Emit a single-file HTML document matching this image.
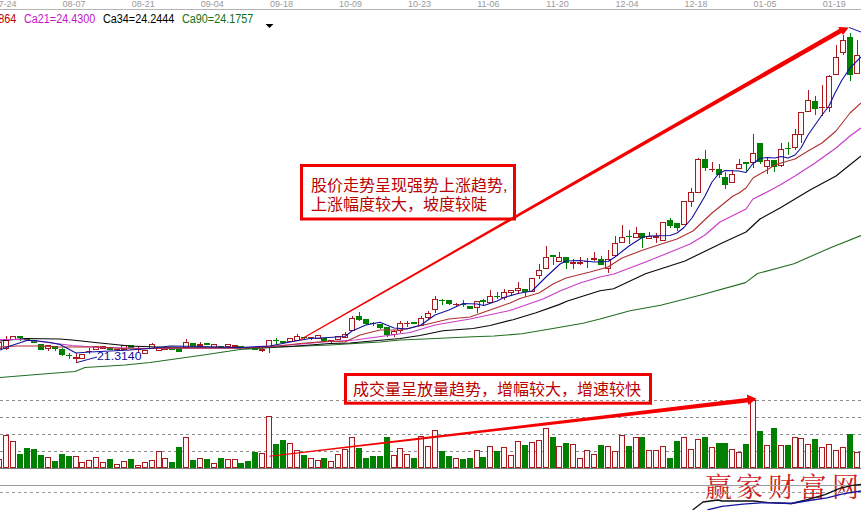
<!DOCTYPE html><html><head><meta charset="utf-8"><title>chart</title><style>
html,body{margin:0;padding:0;background:#fff}
body{width:861px;height:510px;position:relative;overflow:hidden;font-family:"Liberation Sans",sans-serif}
.d{position:absolute;top:-1.4px;font-size:9px;line-height:10px;color:#9a9a9a;transform:scaleX(1);transform-origin:0 0;white-space:nowrap}
.l{position:absolute;top:12px;font-size:12px;line-height:14px;transform:scaleX(.9);transform-origin:0 0;white-space:nowrap}
.p{position:absolute;left:96.5px;top:349.4px;font-size:11px;line-height:14px;color:#1010a0;white-space:nowrap;transform:scaleX(1.12);transform-origin:0 0}
</style></head><body>
<svg width="861" height="510" viewBox="0 0 861 510" style="position:absolute;left:0;top:0">
<text x="705 736 768 799.5 832" y="496.5" font-size="27" fill="#d01c1c" stroke="#fff" stroke-width="1.0" paint-order="stroke" font-family="'Liberation Serif','Noto Serif CJK SC',serif">赢家财富网</text>
<g shape-rendering="crispEdges">
<rect x="0" y="9" width="861" height="1" fill="#b4b4b4"/>
<line x1="0" y1="400.5" x2="861" y2="400.5" stroke="#8c8c8c" stroke-width="1" stroke-dasharray="3 3"/>
<line x1="0" y1="417.5" x2="861" y2="417.5" stroke="#8c8c8c" stroke-width="1" stroke-dasharray="3 3"/>
<line x1="0" y1="434.5" x2="861" y2="434.5" stroke="#8c8c8c" stroke-width="1" stroke-dasharray="3 3"/>
<line x1="0" y1="451.5" x2="861" y2="451.5" stroke="#8c8c8c" stroke-width="1" stroke-dasharray="3 3"/>
<rect x="0" y="468" width="861" height="1" fill="#7c7c7c"/>
<rect x="0" y="485" width="861" height="1" fill="#9a9a9a"/>
<line x1="0" y1="492.5" x2="861" y2="492.5" stroke="#9a9a9a" stroke-width="1" stroke-dasharray="3 3"/>
</g>
<g shape-rendering="crispEdges">
<rect x="-1" y="342" width="1" height="7" fill="#a8181c"/>
<rect x="-3.5" y="342.5" width="5" height="6" fill="#fff8f8" stroke="#a8181c" stroke-width="1"/>
<rect x="-3.5" y="459.5" width="5" height="8" fill="#fff8f8" stroke="#a8181c" stroke-width="1"/>
<rect x="6" y="336" width="1" height="14" fill="#a8181c"/>
<rect x="3.5" y="340.5" width="5" height="8" fill="#fff8f8" stroke="#a8181c" stroke-width="1"/>
<rect x="3.5" y="435.5" width="5" height="32" fill="#fff8f8" stroke="#a8181c" stroke-width="1"/>
<rect x="13" y="336" width="1" height="4" fill="#a8181c"/>
<rect x="10.5" y="336.5" width="5" height="3" fill="#fff8f8" stroke="#a8181c" stroke-width="1"/>
<rect x="10.5" y="441.5" width="5" height="26" fill="#fff8f8" stroke="#a8181c" stroke-width="1"/>
<rect x="20" y="336" width="1" height="5" fill="#008000"/>
<rect x="17" y="336" width="6" height="2" fill="#008000"/>
<rect x="17" y="454" width="6" height="14" fill="#008000"/>
<rect x="27" y="338" width="1" height="2" fill="#008000"/>
<rect x="24" y="338" width="6" height="2" fill="#008000"/>
<rect x="24" y="448" width="6" height="20" fill="#008000"/>
<rect x="34" y="340" width="1" height="3" fill="#008000"/>
<rect x="31" y="340" width="6" height="3" fill="#008000"/>
<rect x="31" y="449" width="6" height="19" fill="#008000"/>
<rect x="41" y="344" width="1" height="6" fill="#008000"/>
<rect x="38" y="344" width="6" height="6" fill="#008000"/>
<rect x="38" y="455" width="6" height="13" fill="#008000"/>
<rect x="48" y="345" width="1" height="6" fill="#a8181c"/>
<rect x="45.5" y="345.5" width="5" height="3" fill="#fff8f8" stroke="#a8181c" stroke-width="1"/>
<rect x="45.5" y="457.5" width="5" height="10" fill="#fff8f8" stroke="#a8181c" stroke-width="1"/>
<rect x="55" y="346" width="1" height="5" fill="#008000"/>
<rect x="52" y="346" width="6" height="3" fill="#008000"/>
<rect x="52" y="461" width="6" height="7" fill="#008000"/>
<rect x="62" y="348" width="1" height="8" fill="#008000"/>
<rect x="59" y="349" width="6" height="6" fill="#008000"/>
<rect x="59" y="454" width="6" height="14" fill="#008000"/>
<rect x="69" y="353" width="1" height="6" fill="#008000"/>
<rect x="66" y="355" width="6" height="1" fill="#008000"/>
<rect x="66" y="456" width="6" height="12" fill="#008000"/>
<rect x="76" y="353" width="1" height="10" fill="#a8181c"/>
<rect x="73" y="357" width="6" height="2" fill="#a8181c"/>
<rect x="73.5" y="456.5" width="5" height="11" fill="#fff8f8" stroke="#a8181c" stroke-width="1"/>
<rect x="82" y="354" width="1" height="5" fill="#a8181c"/>
<rect x="79.5" y="354.5" width="5" height="4" fill="#fff8f8" stroke="#a8181c" stroke-width="1"/>
<rect x="79.5" y="462.5" width="5" height="5" fill="#fff8f8" stroke="#a8181c" stroke-width="1"/>
<rect x="89" y="348" width="1" height="6" fill="#a8181c"/>
<rect x="86" y="351" width="6" height="1" fill="#a8181c"/>
<rect x="86.5" y="460.5" width="5" height="7" fill="#fff8f8" stroke="#a8181c" stroke-width="1"/>
<rect x="96" y="346" width="1" height="4" fill="#a8181c"/>
<rect x="93.5" y="346.5" width="5" height="3" fill="#fff8f8" stroke="#a8181c" stroke-width="1"/>
<rect x="93.5" y="457.5" width="5" height="10" fill="#fff8f8" stroke="#a8181c" stroke-width="1"/>
<rect x="103" y="346" width="1" height="3" fill="#a8181c"/>
<rect x="100.5" y="346.5" width="5" height="2" fill="#fff8f8" stroke="#a8181c" stroke-width="1"/>
<rect x="100.5" y="462.5" width="5" height="5" fill="#fff8f8" stroke="#a8181c" stroke-width="1"/>
<rect x="110" y="347" width="1" height="3" fill="#008000"/>
<rect x="107" y="347" width="6" height="3" fill="#008000"/>
<rect x="107" y="459" width="6" height="9" fill="#008000"/>
<rect x="117" y="349" width="1" height="2" fill="#a8181c"/>
<rect x="114" y="349" width="6" height="1" fill="#a8181c"/>
<rect x="114.5" y="464.5" width="5" height="3" fill="#fff8f8" stroke="#a8181c" stroke-width="1"/>
<rect x="124" y="345" width="1" height="5" fill="#a8181c"/>
<rect x="121.5" y="345.5" width="5" height="4" fill="#fff8f8" stroke="#a8181c" stroke-width="1"/>
<rect x="121.5" y="461.5" width="5" height="6" fill="#fff8f8" stroke="#a8181c" stroke-width="1"/>
<rect x="131" y="345" width="1" height="3" fill="#008000"/>
<rect x="128" y="345" width="6" height="3" fill="#008000"/>
<rect x="128" y="459" width="6" height="9" fill="#008000"/>
<rect x="138" y="346" width="1" height="7" fill="#a8181c"/>
<rect x="135" y="349" width="6" height="1" fill="#a8181c"/>
<rect x="135.5" y="465.5" width="5" height="2" fill="#fff8f8" stroke="#a8181c" stroke-width="1"/>
<rect x="145" y="350" width="1" height="4" fill="#a8181c"/>
<rect x="142.5" y="350.5" width="5" height="3" fill="#fff8f8" stroke="#a8181c" stroke-width="1"/>
<rect x="142.5" y="462.5" width="5" height="5" fill="#fff8f8" stroke="#a8181c" stroke-width="1"/>
<rect x="152" y="343" width="1" height="6" fill="#a8181c"/>
<rect x="149.5" y="344.5" width="5" height="4" fill="#fff8f8" stroke="#a8181c" stroke-width="1"/>
<rect x="149.5" y="460.5" width="5" height="7" fill="#fff8f8" stroke="#a8181c" stroke-width="1"/>
<rect x="159" y="348" width="1" height="3" fill="#a8181c"/>
<rect x="156.5" y="348.5" width="5" height="2" fill="#fff8f8" stroke="#a8181c" stroke-width="1"/>
<rect x="156.5" y="451.5" width="5" height="16" fill="#fff8f8" stroke="#a8181c" stroke-width="1"/>
<rect x="165" y="348" width="1" height="2" fill="#a8181c"/>
<rect x="162" y="348" width="6" height="2" fill="#a8181c"/>
<rect x="162.5" y="458.5" width="5" height="9" fill="#fff8f8" stroke="#a8181c" stroke-width="1"/>
<rect x="172" y="348" width="1" height="2" fill="#008000"/>
<rect x="169" y="348" width="6" height="2" fill="#008000"/>
<rect x="169" y="462" width="6" height="6" fill="#008000"/>
<rect x="179" y="348" width="1" height="4" fill="#008000"/>
<rect x="176" y="348" width="6" height="4" fill="#008000"/>
<rect x="176" y="447" width="6" height="21" fill="#008000"/>
<rect x="186" y="339" width="1" height="9" fill="#a8181c"/>
<rect x="183.5" y="342.5" width="5" height="5" fill="#fff8f8" stroke="#a8181c" stroke-width="1"/>
<rect x="183.5" y="437.5" width="5" height="30" fill="#fff8f8" stroke="#a8181c" stroke-width="1"/>
<rect x="193" y="343" width="1" height="3" fill="#008000"/>
<rect x="190" y="343" width="6" height="3" fill="#008000"/>
<rect x="190" y="460" width="6" height="8" fill="#008000"/>
<rect x="200" y="342" width="1" height="4" fill="#a8181c"/>
<rect x="197" y="344" width="6" height="2" fill="#a8181c"/>
<rect x="197.5" y="458.5" width="5" height="9" fill="#fff8f8" stroke="#a8181c" stroke-width="1"/>
<rect x="207" y="343" width="1" height="2" fill="#008000"/>
<rect x="204" y="343" width="6" height="2" fill="#008000"/>
<rect x="204" y="459" width="6" height="9" fill="#008000"/>
<rect x="214" y="344" width="1" height="4" fill="#a8181c"/>
<rect x="211.5" y="344.5" width="5" height="3" fill="#fff8f8" stroke="#a8181c" stroke-width="1"/>
<rect x="211.5" y="463.5" width="5" height="4" fill="#fff8f8" stroke="#a8181c" stroke-width="1"/>
<rect x="221" y="346" width="1" height="2" fill="#008000"/>
<rect x="218" y="346" width="6" height="2" fill="#008000"/>
<rect x="218" y="458" width="6" height="10" fill="#008000"/>
<rect x="228" y="344" width="1" height="3" fill="#a8181c"/>
<rect x="225.5" y="344.5" width="5" height="2" fill="#fff8f8" stroke="#a8181c" stroke-width="1"/>
<rect x="225.5" y="459.5" width="5" height="8" fill="#fff8f8" stroke="#a8181c" stroke-width="1"/>
<rect x="235" y="345" width="1" height="2" fill="#a8181c"/>
<rect x="232" y="345" width="6" height="2" fill="#a8181c"/>
<rect x="232.5" y="459.5" width="5" height="8" fill="#fff8f8" stroke="#a8181c" stroke-width="1"/>
<rect x="241" y="346" width="1" height="2" fill="#008000"/>
<rect x="238" y="346" width="6" height="2" fill="#008000"/>
<rect x="238" y="463" width="6" height="5" fill="#008000"/>
<rect x="248" y="347" width="1" height="2" fill="#008000"/>
<rect x="245" y="347" width="6" height="2" fill="#008000"/>
<rect x="245" y="461" width="6" height="7" fill="#008000"/>
<rect x="255" y="348" width="1" height="2" fill="#008000"/>
<rect x="252" y="348" width="6" height="2" fill="#008000"/>
<rect x="252" y="452" width="6" height="16" fill="#008000"/>
<rect x="262" y="348" width="1" height="4" fill="#a8181c"/>
<rect x="259" y="349" width="6" height="2" fill="#a8181c"/>
<rect x="259.5" y="453.5" width="5" height="14" fill="#fff8f8" stroke="#a8181c" stroke-width="1"/>
<rect x="269" y="340" width="1" height="13" fill="#a8181c"/>
<rect x="266.5" y="340.5" width="5" height="6" fill="#fff8f8" stroke="#a8181c" stroke-width="1"/>
<rect x="266.5" y="416.5" width="5" height="51" fill="#fff8f8" stroke="#a8181c" stroke-width="1"/>
<rect x="276" y="338" width="1" height="6" fill="#008000"/>
<rect x="273" y="340" width="6" height="1" fill="#008000"/>
<rect x="273" y="444" width="6" height="24" fill="#008000"/>
<rect x="283" y="341" width="1" height="2" fill="#008000"/>
<rect x="280" y="341" width="6" height="2" fill="#008000"/>
<rect x="280" y="440" width="6" height="28" fill="#008000"/>
<rect x="290" y="338" width="1" height="4" fill="#a8181c"/>
<rect x="287.5" y="338.5" width="5" height="3" fill="#fff8f8" stroke="#a8181c" stroke-width="1"/>
<rect x="287.5" y="443.5" width="5" height="24" fill="#fff8f8" stroke="#a8181c" stroke-width="1"/>
<rect x="297" y="334" width="1" height="7" fill="#a8181c"/>
<rect x="294.5" y="336.5" width="5" height="4" fill="#fff8f8" stroke="#a8181c" stroke-width="1"/>
<rect x="294.5" y="450.5" width="5" height="17" fill="#fff8f8" stroke="#a8181c" stroke-width="1"/>
<rect x="304" y="337" width="1" height="2" fill="#008000"/>
<rect x="301" y="337" width="6" height="1" fill="#008000"/>
<rect x="301" y="455" width="6" height="13" fill="#008000"/>
<rect x="311" y="337" width="1" height="3" fill="#a8181c"/>
<rect x="308" y="337" width="6" height="1" fill="#a8181c"/>
<rect x="308.5" y="458.5" width="5" height="9" fill="#fff8f8" stroke="#a8181c" stroke-width="1"/>
<rect x="318" y="335" width="1" height="4" fill="#a8181c"/>
<rect x="315.5" y="335.5" width="5" height="3" fill="#fff8f8" stroke="#a8181c" stroke-width="1"/>
<rect x="315.5" y="460.5" width="5" height="7" fill="#fff8f8" stroke="#a8181c" stroke-width="1"/>
<rect x="324" y="338" width="1" height="3" fill="#008000"/>
<rect x="321" y="338" width="6" height="3" fill="#008000"/>
<rect x="321" y="458" width="6" height="10" fill="#008000"/>
<rect x="331" y="340" width="1" height="3" fill="#a8181c"/>
<rect x="328" y="340" width="6" height="1" fill="#a8181c"/>
<rect x="328.5" y="461.5" width="5" height="6" fill="#fff8f8" stroke="#a8181c" stroke-width="1"/>
<rect x="338" y="336" width="1" height="4" fill="#a8181c"/>
<rect x="335.5" y="336.5" width="5" height="3" fill="#fff8f8" stroke="#a8181c" stroke-width="1"/>
<rect x="335.5" y="454.5" width="5" height="13" fill="#fff8f8" stroke="#a8181c" stroke-width="1"/>
<rect x="345" y="332" width="1" height="6" fill="#a8181c"/>
<rect x="342.5" y="334.5" width="5" height="3" fill="#fff8f8" stroke="#a8181c" stroke-width="1"/>
<rect x="342.5" y="449.5" width="5" height="18" fill="#fff8f8" stroke="#a8181c" stroke-width="1"/>
<rect x="352" y="316" width="1" height="15" fill="#a8181c"/>
<rect x="349.5" y="318.5" width="5" height="12" fill="#fff8f8" stroke="#a8181c" stroke-width="1"/>
<rect x="349.5" y="437.5" width="5" height="30" fill="#fff8f8" stroke="#a8181c" stroke-width="1"/>
<rect x="359" y="312" width="1" height="9" fill="#008000"/>
<rect x="356" y="316" width="6" height="4" fill="#008000"/>
<rect x="356" y="448" width="6" height="20" fill="#008000"/>
<rect x="366" y="319" width="1" height="6" fill="#008000"/>
<rect x="363" y="319" width="6" height="5" fill="#008000"/>
<rect x="363" y="458" width="6" height="10" fill="#008000"/>
<rect x="373" y="322" width="1" height="4" fill="#008000"/>
<rect x="370" y="323" width="6" height="1" fill="#008000"/>
<rect x="370" y="456" width="6" height="12" fill="#008000"/>
<rect x="380" y="324" width="1" height="5" fill="#008000"/>
<rect x="377" y="324" width="6" height="4" fill="#008000"/>
<rect x="377" y="456" width="6" height="12" fill="#008000"/>
<rect x="387" y="327" width="1" height="10" fill="#008000"/>
<rect x="384" y="327" width="6" height="8" fill="#008000"/>
<rect x="384" y="437" width="6" height="31" fill="#008000"/>
<rect x="394" y="330" width="1" height="7" fill="#a8181c"/>
<rect x="391.5" y="331.5" width="5" height="3" fill="#fff8f8" stroke="#a8181c" stroke-width="1"/>
<rect x="391.5" y="455.5" width="5" height="12" fill="#fff8f8" stroke="#a8181c" stroke-width="1"/>
<rect x="400" y="321" width="1" height="12" fill="#a8181c"/>
<rect x="397.5" y="323.5" width="5" height="7" fill="#fff8f8" stroke="#a8181c" stroke-width="1"/>
<rect x="397.5" y="448.5" width="5" height="19" fill="#fff8f8" stroke="#a8181c" stroke-width="1"/>
<rect x="407" y="321" width="1" height="6" fill="#a8181c"/>
<rect x="404" y="323" width="6" height="1" fill="#a8181c"/>
<rect x="404.5" y="454.5" width="5" height="13" fill="#fff8f8" stroke="#a8181c" stroke-width="1"/>
<rect x="414" y="322" width="1" height="2" fill="#008000"/>
<rect x="411" y="322" width="6" height="2" fill="#008000"/>
<rect x="411" y="458" width="6" height="10" fill="#008000"/>
<rect x="421" y="316" width="1" height="10" fill="#a8181c"/>
<rect x="418.5" y="318.5" width="5" height="7" fill="#fff8f8" stroke="#a8181c" stroke-width="1"/>
<rect x="418.5" y="436.5" width="5" height="31" fill="#fff8f8" stroke="#a8181c" stroke-width="1"/>
<rect x="428" y="311" width="1" height="9" fill="#a8181c"/>
<rect x="425.5" y="313.5" width="5" height="4" fill="#fff8f8" stroke="#a8181c" stroke-width="1"/>
<rect x="425.5" y="446.5" width="5" height="21" fill="#fff8f8" stroke="#a8181c" stroke-width="1"/>
<rect x="435" y="296" width="1" height="17" fill="#a8181c"/>
<rect x="432.5" y="299.5" width="5" height="10" fill="#fff8f8" stroke="#a8181c" stroke-width="1"/>
<rect x="432.5" y="430.5" width="5" height="37" fill="#fff8f8" stroke="#a8181c" stroke-width="1"/>
<rect x="442" y="299" width="1" height="6" fill="#008000"/>
<rect x="439" y="300" width="6" height="1" fill="#008000"/>
<rect x="439" y="451" width="6" height="17" fill="#008000"/>
<rect x="449" y="300" width="1" height="5" fill="#008000"/>
<rect x="446" y="300" width="6" height="4" fill="#008000"/>
<rect x="446" y="456" width="6" height="12" fill="#008000"/>
<rect x="456" y="303" width="1" height="4" fill="#a8181c"/>
<rect x="453" y="304" width="6" height="1" fill="#a8181c"/>
<rect x="453.5" y="458.5" width="5" height="9" fill="#fff8f8" stroke="#a8181c" stroke-width="1"/>
<rect x="463" y="300" width="1" height="7" fill="#008000"/>
<rect x="460" y="304" width="6" height="1" fill="#008000"/>
<rect x="460" y="459" width="6" height="9" fill="#008000"/>
<rect x="470" y="306" width="1" height="3" fill="#008000"/>
<rect x="467" y="306" width="6" height="3" fill="#008000"/>
<rect x="467" y="458" width="6" height="10" fill="#008000"/>
<rect x="477" y="301" width="1" height="12" fill="#a8181c"/>
<rect x="474.5" y="301.5" width="5" height="6" fill="#fff8f8" stroke="#a8181c" stroke-width="1"/>
<rect x="474.5" y="450.5" width="5" height="17" fill="#fff8f8" stroke="#a8181c" stroke-width="1"/>
<rect x="483" y="299" width="1" height="7" fill="#008000"/>
<rect x="480" y="300" width="6" height="2" fill="#008000"/>
<rect x="480" y="457" width="6" height="11" fill="#008000"/>
<rect x="490" y="290" width="1" height="13" fill="#a8181c"/>
<rect x="487.5" y="296.5" width="5" height="6" fill="#fff8f8" stroke="#a8181c" stroke-width="1"/>
<rect x="487.5" y="446.5" width="5" height="21" fill="#fff8f8" stroke="#a8181c" stroke-width="1"/>
<rect x="497" y="292" width="1" height="7" fill="#008000"/>
<rect x="494" y="296" width="6" height="1" fill="#008000"/>
<rect x="494" y="451" width="6" height="17" fill="#008000"/>
<rect x="504" y="289" width="1" height="11" fill="#a8181c"/>
<rect x="501.5" y="292.5" width="5" height="5" fill="#fff8f8" stroke="#a8181c" stroke-width="1"/>
<rect x="501.5" y="447.5" width="5" height="20" fill="#fff8f8" stroke="#a8181c" stroke-width="1"/>
<rect x="511" y="290" width="1" height="6" fill="#a8181c"/>
<rect x="508.5" y="290.5" width="5" height="2" fill="#fff8f8" stroke="#a8181c" stroke-width="1"/>
<rect x="508.5" y="455.5" width="5" height="12" fill="#fff8f8" stroke="#a8181c" stroke-width="1"/>
<rect x="518" y="282" width="1" height="12" fill="#a8181c"/>
<rect x="515.5" y="288.5" width="5" height="2" fill="#fff8f8" stroke="#a8181c" stroke-width="1"/>
<rect x="515.5" y="441.5" width="5" height="26" fill="#fff8f8" stroke="#a8181c" stroke-width="1"/>
<rect x="525" y="289" width="1" height="8" fill="#008000"/>
<rect x="522" y="289" width="6" height="3" fill="#008000"/>
<rect x="522" y="445" width="6" height="23" fill="#008000"/>
<rect x="532" y="278" width="1" height="14" fill="#a8181c"/>
<rect x="529.5" y="278.5" width="5" height="13" fill="#fff8f8" stroke="#a8181c" stroke-width="1"/>
<rect x="529.5" y="442.5" width="5" height="25" fill="#fff8f8" stroke="#a8181c" stroke-width="1"/>
<rect x="539" y="264" width="1" height="15" fill="#a8181c"/>
<rect x="536.5" y="270.5" width="5" height="5" fill="#fff8f8" stroke="#a8181c" stroke-width="1"/>
<rect x="536.5" y="440.5" width="5" height="27" fill="#fff8f8" stroke="#a8181c" stroke-width="1"/>
<rect x="546" y="246" width="1" height="23" fill="#a8181c"/>
<rect x="543.5" y="257.5" width="5" height="11" fill="#fff8f8" stroke="#a8181c" stroke-width="1"/>
<rect x="543.5" y="428.5" width="5" height="39" fill="#fff8f8" stroke="#a8181c" stroke-width="1"/>
<rect x="553" y="255" width="1" height="10" fill="#008000"/>
<rect x="550" y="255" width="6" height="2" fill="#008000"/>
<rect x="550" y="437" width="6" height="31" fill="#008000"/>
<rect x="559" y="252" width="1" height="10" fill="#a8181c"/>
<rect x="556.5" y="257.5" width="5" height="4" fill="#fff8f8" stroke="#a8181c" stroke-width="1"/>
<rect x="556.5" y="446.5" width="5" height="21" fill="#fff8f8" stroke="#a8181c" stroke-width="1"/>
<rect x="566" y="257" width="1" height="12" fill="#008000"/>
<rect x="563" y="257" width="6" height="6" fill="#008000"/>
<rect x="563" y="443" width="6" height="25" fill="#008000"/>
<rect x="573" y="259" width="1" height="10" fill="#a8181c"/>
<rect x="570" y="262" width="6" height="2" fill="#a8181c"/>
<rect x="570.5" y="444.5" width="5" height="23" fill="#fff8f8" stroke="#a8181c" stroke-width="1"/>
<rect x="580" y="257" width="1" height="8" fill="#a8181c"/>
<rect x="577" y="262" width="6" height="2" fill="#a8181c"/>
<rect x="577.5" y="458.5" width="5" height="9" fill="#fff8f8" stroke="#a8181c" stroke-width="1"/>
<rect x="587" y="258" width="1" height="10" fill="#a8181c"/>
<rect x="584" y="261" width="6" height="1" fill="#a8181c"/>
<rect x="584.5" y="450.5" width="5" height="17" fill="#fff8f8" stroke="#a8181c" stroke-width="1"/>
<rect x="594" y="252" width="1" height="9" fill="#a8181c"/>
<rect x="591" y="258" width="6" height="2" fill="#a8181c"/>
<rect x="591.5" y="454.5" width="5" height="13" fill="#fff8f8" stroke="#a8181c" stroke-width="1"/>
<rect x="601" y="256" width="1" height="9" fill="#008000"/>
<rect x="598" y="259" width="6" height="6" fill="#008000"/>
<rect x="598" y="445" width="6" height="23" fill="#008000"/>
<rect x="608" y="250" width="1" height="23" fill="#a8181c"/>
<rect x="605.5" y="259.5" width="5" height="9" fill="#fff8f8" stroke="#a8181c" stroke-width="1"/>
<rect x="605.5" y="446.5" width="5" height="21" fill="#fff8f8" stroke="#a8181c" stroke-width="1"/>
<rect x="615" y="236" width="1" height="20" fill="#a8181c"/>
<rect x="612.5" y="243.5" width="5" height="12" fill="#fff8f8" stroke="#a8181c" stroke-width="1"/>
<rect x="612.5" y="451.5" width="5" height="16" fill="#fff8f8" stroke="#a8181c" stroke-width="1"/>
<rect x="622" y="225" width="1" height="18" fill="#a8181c"/>
<rect x="619.5" y="237.5" width="5" height="5" fill="#fff8f8" stroke="#a8181c" stroke-width="1"/>
<rect x="619.5" y="435.5" width="5" height="32" fill="#fff8f8" stroke="#a8181c" stroke-width="1"/>
<rect x="629" y="230" width="1" height="14" fill="#008000"/>
<rect x="626" y="236" width="6" height="1" fill="#008000"/>
<rect x="626" y="446" width="6" height="22" fill="#008000"/>
<rect x="636" y="227" width="1" height="11" fill="#a8181c"/>
<rect x="633.5" y="233.5" width="5" height="4" fill="#fff8f8" stroke="#a8181c" stroke-width="1"/>
<rect x="633.5" y="437.5" width="5" height="30" fill="#fff8f8" stroke="#a8181c" stroke-width="1"/>
<rect x="642" y="233" width="1" height="15" fill="#008000"/>
<rect x="639" y="233" width="6" height="5" fill="#008000"/>
<rect x="639" y="437" width="6" height="31" fill="#008000"/>
<rect x="649" y="232" width="1" height="7" fill="#a8181c"/>
<rect x="646.5" y="236.5" width="5" height="2" fill="#fff8f8" stroke="#a8181c" stroke-width="1"/>
<rect x="646.5" y="450.5" width="5" height="17" fill="#fff8f8" stroke="#a8181c" stroke-width="1"/>
<rect x="656" y="233" width="1" height="10" fill="#a8181c"/>
<rect x="653" y="236" width="6" height="2" fill="#a8181c"/>
<rect x="653.5" y="450.5" width="5" height="17" fill="#fff8f8" stroke="#a8181c" stroke-width="1"/>
<rect x="663" y="222" width="1" height="19" fill="#a8181c"/>
<rect x="660.5" y="222.5" width="5" height="18" fill="#fff8f8" stroke="#a8181c" stroke-width="1"/>
<rect x="660.5" y="446.5" width="5" height="21" fill="#fff8f8" stroke="#a8181c" stroke-width="1"/>
<rect x="670" y="218" width="1" height="10" fill="#008000"/>
<rect x="667" y="220" width="6" height="6" fill="#008000"/>
<rect x="667" y="458" width="6" height="10" fill="#008000"/>
<rect x="677" y="223" width="1" height="8" fill="#008000"/>
<rect x="674" y="223" width="6" height="5" fill="#008000"/>
<rect x="674" y="441" width="6" height="27" fill="#008000"/>
<rect x="684" y="201" width="1" height="24" fill="#a8181c"/>
<rect x="681.5" y="201.5" width="5" height="23" fill="#fff8f8" stroke="#a8181c" stroke-width="1"/>
<rect x="681.5" y="437.5" width="5" height="30" fill="#fff8f8" stroke="#a8181c" stroke-width="1"/>
<rect x="691" y="188" width="1" height="19" fill="#a8181c"/>
<rect x="688.5" y="192.5" width="5" height="9" fill="#fff8f8" stroke="#a8181c" stroke-width="1"/>
<rect x="688.5" y="449.5" width="5" height="18" fill="#fff8f8" stroke="#a8181c" stroke-width="1"/>
<rect x="698" y="158" width="1" height="35" fill="#a8181c"/>
<rect x="695.5" y="159.5" width="5" height="33" fill="#fff8f8" stroke="#a8181c" stroke-width="1"/>
<rect x="695.5" y="439.5" width="5" height="28" fill="#fff8f8" stroke="#a8181c" stroke-width="1"/>
<rect x="705" y="150" width="1" height="21" fill="#008000"/>
<rect x="702" y="159" width="6" height="9" fill="#008000"/>
<rect x="702" y="437" width="6" height="31" fill="#008000"/>
<rect x="712" y="162" width="1" height="10" fill="#a8181c"/>
<rect x="709" y="169" width="6" height="1" fill="#a8181c"/>
<rect x="709.5" y="447.5" width="5" height="20" fill="#fff8f8" stroke="#a8181c" stroke-width="1"/>
<rect x="719" y="164" width="1" height="14" fill="#008000"/>
<rect x="716" y="169" width="6" height="6" fill="#008000"/>
<rect x="716" y="443" width="6" height="25" fill="#008000"/>
<rect x="725" y="172" width="1" height="17" fill="#008000"/>
<rect x="722" y="177" width="6" height="8" fill="#008000"/>
<rect x="722" y="443" width="6" height="25" fill="#008000"/>
<rect x="732" y="170" width="1" height="13" fill="#a8181c"/>
<rect x="729.5" y="174.5" width="5" height="8" fill="#fff8f8" stroke="#a8181c" stroke-width="1"/>
<rect x="729.5" y="449.5" width="5" height="18" fill="#fff8f8" stroke="#a8181c" stroke-width="1"/>
<rect x="739" y="159" width="1" height="10" fill="#a8181c"/>
<rect x="736.5" y="164.5" width="5" height="4" fill="#fff8f8" stroke="#a8181c" stroke-width="1"/>
<rect x="736.5" y="452.5" width="5" height="15" fill="#fff8f8" stroke="#a8181c" stroke-width="1"/>
<rect x="746" y="162" width="1" height="10" fill="#008000"/>
<rect x="743" y="162" width="6" height="2" fill="#008000"/>
<rect x="743" y="444" width="6" height="24" fill="#008000"/>
<rect x="753" y="134" width="1" height="34" fill="#a8181c"/>
<rect x="750.5" y="153.5" width="5" height="9" fill="#fff8f8" stroke="#a8181c" stroke-width="1"/>
<rect x="750.5" y="400.5" width="5" height="67" fill="#fff8f8" stroke="#a8181c" stroke-width="1"/>
<rect x="760" y="143" width="1" height="21" fill="#008000"/>
<rect x="757" y="143" width="6" height="19" fill="#008000"/>
<rect x="757" y="431" width="6" height="37" fill="#008000"/>
<rect x="767" y="158" width="1" height="16" fill="#a8181c"/>
<rect x="764.5" y="160.5" width="5" height="6" fill="#fff8f8" stroke="#a8181c" stroke-width="1"/>
<rect x="764.5" y="445.5" width="5" height="22" fill="#fff8f8" stroke="#a8181c" stroke-width="1"/>
<rect x="774" y="160" width="1" height="12" fill="#008000"/>
<rect x="771" y="160" width="6" height="7" fill="#008000"/>
<rect x="771" y="428" width="6" height="40" fill="#008000"/>
<rect x="781" y="143" width="1" height="24" fill="#a8181c"/>
<rect x="778.5" y="149.5" width="5" height="16" fill="#fff8f8" stroke="#a8181c" stroke-width="1"/>
<rect x="778.5" y="445.5" width="5" height="22" fill="#fff8f8" stroke="#a8181c" stroke-width="1"/>
<rect x="788" y="142" width="1" height="13" fill="#008000"/>
<rect x="785" y="148" width="6" height="1" fill="#008000"/>
<rect x="785" y="445" width="6" height="23" fill="#008000"/>
<rect x="795" y="129" width="1" height="21" fill="#a8181c"/>
<rect x="792.5" y="134.5" width="5" height="13" fill="#fff8f8" stroke="#a8181c" stroke-width="1"/>
<rect x="792.5" y="437.5" width="5" height="30" fill="#fff8f8" stroke="#a8181c" stroke-width="1"/>
<rect x="801" y="112" width="1" height="31" fill="#a8181c"/>
<rect x="798.5" y="112.5" width="5" height="22" fill="#fff8f8" stroke="#a8181c" stroke-width="1"/>
<rect x="798.5" y="438.5" width="5" height="29" fill="#fff8f8" stroke="#a8181c" stroke-width="1"/>
<rect x="808" y="90" width="1" height="22" fill="#a8181c"/>
<rect x="805.5" y="100.5" width="5" height="11" fill="#fff8f8" stroke="#a8181c" stroke-width="1"/>
<rect x="805.5" y="444.5" width="5" height="23" fill="#fff8f8" stroke="#a8181c" stroke-width="1"/>
<rect x="815" y="96" width="1" height="19" fill="#008000"/>
<rect x="812" y="101" width="6" height="8" fill="#008000"/>
<rect x="812" y="439" width="6" height="29" fill="#008000"/>
<rect x="822" y="85" width="1" height="31" fill="#a8181c"/>
<rect x="819" y="107" width="6" height="1" fill="#a8181c"/>
<rect x="819.5" y="447.5" width="5" height="20" fill="#fff8f8" stroke="#a8181c" stroke-width="1"/>
<rect x="829" y="75" width="1" height="37" fill="#a8181c"/>
<rect x="826.5" y="76.5" width="5" height="31" fill="#fff8f8" stroke="#a8181c" stroke-width="1"/>
<rect x="826.5" y="444.5" width="5" height="23" fill="#fff8f8" stroke="#a8181c" stroke-width="1"/>
<rect x="836" y="45" width="1" height="30" fill="#a8181c"/>
<rect x="833.5" y="57.5" width="5" height="17" fill="#fff8f8" stroke="#a8181c" stroke-width="1"/>
<rect x="833.5" y="450.5" width="5" height="17" fill="#fff8f8" stroke="#a8181c" stroke-width="1"/>
<rect x="843" y="35" width="1" height="20" fill="#a8181c"/>
<rect x="840.5" y="40.5" width="5" height="12" fill="#fff8f8" stroke="#a8181c" stroke-width="1"/>
<rect x="840.5" y="447.5" width="5" height="20" fill="#fff8f8" stroke="#a8181c" stroke-width="1"/>
<rect x="850" y="33" width="1" height="48" fill="#008000"/>
<rect x="847" y="37" width="6" height="38" fill="#008000"/>
<rect x="847" y="434" width="6" height="34" fill="#008000"/>
<rect x="857" y="40" width="1" height="34" fill="#a8181c"/>
<rect x="854.5" y="55.5" width="5" height="18" fill="#fff8f8" stroke="#a8181c" stroke-width="1"/>
<rect x="854.5" y="452.5" width="5" height="15" fill="#fff8f8" stroke="#a8181c" stroke-width="1"/>
</g>
<polyline fill="none" stroke="#226e22" stroke-width="1.1" stroke-linejoin="round" points="0,377.5 37,374.5 75,371.5 85,367.5 125,365 150,362.5 200,355.5 240,349.5 280,347 330,345 380,342 400,340 430,338.8 473,336.7 494,336 522,333.7 550,329 583,323.2 600,319 630,310.8 660.6,305.3 700,295.3 745.5,282.6 757.6,273.5 794,263.8 830.4,247.7 861,235.6"/>
<polyline fill="none" stroke="#080808" stroke-width="1.15" stroke-linejoin="round" points="0,341 25,338.5 60,339 72,340 100,343 130,346 170,347.5 240,348 290,346.5 330,343.5 350,343 400,338.5 420,335.5 443,330.8 473,328.5 490,325.5 513,319.7 536,312.8 559,304.6 567.5,301 600,290.8 613.6,288.7 645.5,273.8 685,261 721,243.5 746,232 760,219 780,208 810,190 836,176 861,156"/>
<polyline fill="none" stroke="#c83cc8" stroke-width="1.15" stroke-linejoin="round" points="0,339.5 20,339.5 40,341.5 60,344 72,345.5 100,347.5 150,348.5 240,348 290,345 330,341.5 355,340 410,332.5 435,325 470,319 510,310.5 543,299 560,291 580,283 600,277 614,274 643,263 663,255 690,244 705,235 720,222 746,209 753,199 767,192 780,185 795,176 815,163 836,148 850,136 861,128"/>
<polyline fill="none" stroke="#b03030" stroke-width="1.1" stroke-linejoin="round" points="0,347 17,346 38,346 60,347 100,347 130,349 170,348 240,348 270,347 300,343.5 330,341 345,342 360,335 380,330 400,330 410,328 428,324 449,319 470,317 490,310 510,303 520,298.5 539,293 553,284 566,278 580,274.5 590,272 608,267 622,258 643,250 663,243.5 677,239 693,231 712,213 733,196 739,193 746,188 753,178 767,170 774,165.5 781,163 795,159 808,151 822,143 836,131 850,113 861,103"/>
<polyline fill="none" stroke="#1010a0" stroke-width="1.1" stroke-linejoin="round" points="0,350 10,346 27,340.5 34,340.5 50,342.5 60,344.5 76,353 90,352 110,351 130,350 150,348.5 170,346 200,346.5 240,347.5 270,346 290,342 310,338.5 320,338 345,336.5 352,331 366,325 380,322.3 394,328 407,329 421,325 435,315 449,310 463,303.5 477,304 484,305.5 497,301 504,297.5 518,293.5 532,291 546,277 560,264 566,261 580,260.5 594,262 608,261.5 615,257 629,246 643,237 650,236 670,235.5 677,233 684,227.5 692,218 705,196 712,182 719,173.5 725,170.5 739,171 746,172.5 753,163.5 760,158.5 767,157.5 775,158 781,156.5 788,158 795,155 801,148 808,135 815,125 822,115 829,106 835,93 842,80 850,68 861,57"/>
<polyline fill="none" stroke="#1414a0" stroke-width="1" stroke-linejoin="round" points="77,362.5 97,357"/>
<polyline fill="none" stroke="#1414a0" stroke-width="1" stroke-linejoin="round" points="849,27.5 861,32"/>
<polyline fill="none" stroke="#101010" stroke-width="1.3" stroke-linejoin="round" points="692.6,510 703,502 717.8,500 722,501 753.6,501 768.3,502.7 791.4,503.5 806,500 825,494.7 839.8,488.4 852.4,485.3 861,484.5"/>
<polyline fill="none" stroke="#1414a0" stroke-width="1.3" stroke-linejoin="round" points="707.3,510 722,506.3 743,504.2 764,502.7 791.4,503.5 806,501 827,497.9 844,493.7 861,491"/>
<polygon points="265.5,24 273.5,24 269.5,28" fill="#000"/>
<polygon fill="#f40000" points="299.6,340.8 843.2,32.0 840.8,28.0 299.0,339.8"/>
<polygon fill="#f40000" points="838.2,27.0 848.7,27.5 842.9,35.0"/>
<polygon fill="#f40000" points="269.6,456.8 749.3,402.3 748.7,397.7 269.4,455.8"/>
<polygon fill="#f40000" points="746.8,394.6 756.6,398.8 748.3,405.1"/>
<rect x="301.5" y="165.5" width="213" height="53.5" fill="none" stroke="#ee0000" stroke-width="3"/>
<rect x="345.5" y="374.5" width="305" height="28.7" fill="none" stroke="#ee0000" stroke-width="3"/>
<text x="311" y="190.5" font-size="16" fill="#b80000" font-family="'Liberation Sans','Noto Sans CJK SC',sans-serif">股价走势呈现强势上涨趋势,</text>
<text x="311" y="209.8" font-size="16" fill="#b80000" font-family="'Liberation Sans','Noto Sans CJK SC',sans-serif">上涨幅度较大，坡度较陡</text>
<text x="353" y="395.3" font-size="16" fill="#b80000" font-family="'Liberation Sans','Noto Sans CJK SC',sans-serif">成交量呈放量趋势，增幅较大，增速较快</text>
</svg>
<div class="d" style="left:-6.5px">07-24</div>
<div class="d" style="left:62.6px">08-07</div>
<div class="d" style="left:131.7px">08-21</div>
<div class="d" style="left:200.8px">09-04</div>
<div class="d" style="left:269.9px">09-18</div>
<div class="d" style="left:339px">10-09</div>
<div class="d" style="left:408.1px">10-23</div>
<div class="d" style="left:477.2px">11-06</div>
<div class="d" style="left:546.3px">11-20</div>
<div class="d" style="left:615.4px">12-04</div>
<div class="d" style="left:684.5px">12-18</div>
<div class="d" style="left:753.6px">01-05</div>
<div class="d" style="left:822.7px">01-19</div>
<div class="l" style="left:-54.9px;color:#c00000">Ca13=24.5864</div>
<div class="l" style="left:24.1px;color:#c414c4">Ca21=24.4300</div>
<div class="l" style="left:103.3px;color:#000">Ca34=24.2444</div>
<div class="l" style="left:182.3px;color:#137013">Ca90=24.1757</div>
<div class="p">21.3140</div>
</body></html>
